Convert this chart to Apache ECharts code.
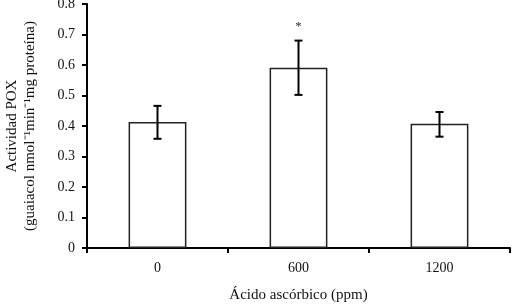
<!DOCTYPE html>
<html>
<head>
<meta charset="utf-8">
<script src="https://cdn.jsdelivr.net/npm/echarts@6/dist/echarts.min.js"></script>
<style>
html, body { margin: 0; padding: 0; background: #fff; }
#main { width: 512px; height: 304px; }
</style>
</head>
<body>
<div id="main"></div>
<script>
var categories = ['0', '600', '1200'];
var meanValues = [0.413, 0.591, 0.407];
var errLow = [0.358, 0.502, 0.365];
var errHigh = [0.466, 0.680, 0.446];
var signif = ['', '*', ''];

var font = '"Liberation Serif", "Times New Roman", serif';

var errData = categories.map(function (c, i) {
    return [i, errLow[i], errHigh[i], signif[i]];
});

var option = {
    animation: false,
    backgroundColor: '#fff',
    grid: {left: 87, right: 2, top: 4, bottom: 56, outerBoundsMode: 'none', containLabel: false},
    xAxis: {
        type: 'category',
        data: categories,
        name: 'Ácido ascórbico (ppm)',
        nameLocation: 'middle',
        nameGap: 40,
        nameTextStyle: {fontFamily: font, fontSize: 15, color: '#111'},
        axisLine: {lineStyle: {color: '#000', width: 2}},
        axisTick: {show: true, length: 5, interval: 0, lineStyle: {color: '#000', width: 2}},
        axisLabel: {fontFamily: font, fontSize: 14, color: '#111', margin: 13}
    },
    yAxis: {
        type: 'value',
        min: 0,
        max: 0.8,
        interval: 0.1,
        name: 'Actividad POX\n(guaiacol nmol⁻¹min⁻¹mg proteína)',
        nameLocation: 'middle',
        nameRotate: 90,
        nameGap: 48,
        nameTextStyle: {fontFamily: font, fontSize: 15, color: '#111', lineHeight: 18, align: 'center'},
        splitLine: {show: false},
        axisLine: {show: true, lineStyle: {color: '#000', width: 2}},
        axisTick: {show: true, length: 5, lineStyle: {color: '#000', width: 2}},
        axisLabel: {
            fontFamily: font, fontSize: 14, color: '#111', margin: 12,
            formatter: function (v) { return String(Math.round(v * 10) / 10); }
        }
    },
    series: [
        {
            type: 'bar',
            data: meanValues,
            barWidth: '41%',
            itemStyle: {color: '#fff', borderColor: '#222', borderWidth: 1.5}
        },
        {
            type: 'custom',
            data: errData,
            z: 10,
            renderItem: function (params, api) {
                var x = api.value(0);
                var lo = api.coord([x, api.value(1)]);
                var hi = api.coord([x, api.value(2)]);
                var cap = 4;
                var style = {stroke: '#000', lineWidth: 2};
                var children = [
                    {type: 'line', shape: {x1: lo[0], y1: lo[1], x2: hi[0], y2: hi[1]}, style: style},
                    {type: 'line', shape: {x1: lo[0] - cap, y1: lo[1], x2: lo[0] + cap, y2: lo[1]}, style: style},
                    {type: 'line', shape: {x1: hi[0] - cap, y1: hi[1], x2: hi[0] + cap, y2: hi[1]}, style: style}
                ];
                var s = api.value(3);
                if (s) {
                    children.push({
                        type: 'text',
                        style: {
                            text: s, x: hi[0], y: hi[1] - 8,
                            align: 'center', verticalAlign: 'bottom',
                            font: '13px ' + font, fill: '#333'
                        }
                    });
                }
                return {type: 'group', children: children};
            }
        }
    ]
};

var chart = echarts.init(document.getElementById('main'));
chart.setOption(option);
</script>
</body>
</html>
